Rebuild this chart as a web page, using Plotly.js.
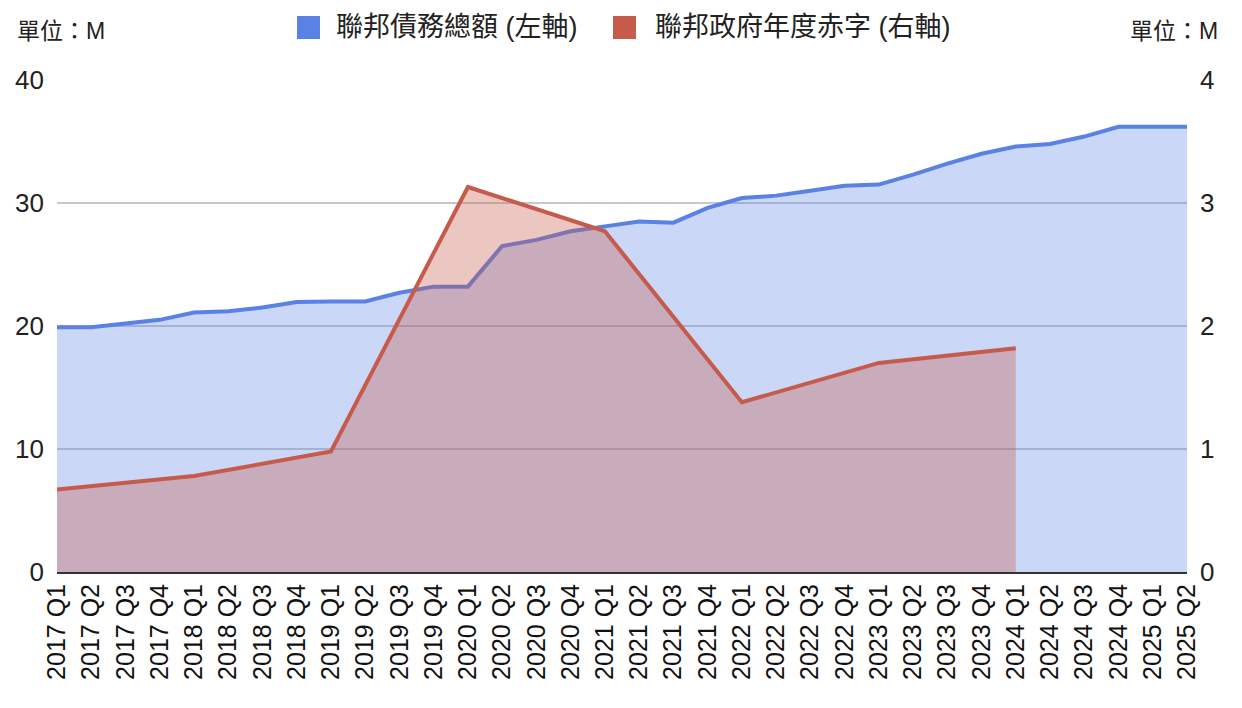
<!DOCTYPE html>
<html>
<head>
<meta charset="utf-8">
<script src="https://cdn.plot.ly/plotly-3.0.1.min.js"></script>
<style>
html,body{margin:0;padding:0;background:#fff;}
#chart{width:1242px;height:708px;}
</style>
</head>
<body>
<div id="chart"></div>
<script>
const categories = [
  "2017 Q1","2017 Q2","2017 Q3","2017 Q4",
  "2018 Q1","2018 Q2","2018 Q3","2018 Q4",
  "2019 Q1","2019 Q2","2019 Q3","2019 Q4",
  "2020 Q1","2020 Q2","2020 Q3","2020 Q4",
  "2021 Q1","2021 Q2","2021 Q3","2021 Q4",
  "2022 Q1","2022 Q2","2022 Q3","2022 Q4",
  "2023 Q1","2023 Q2","2023 Q3","2023 Q4",
  "2024 Q1","2024 Q2","2024 Q3","2024 Q4",
  "2025 Q1","2025 Q2"
];

// 聯邦債務總額 (left axis)
const debtTotal = [
  19.9, 19.9, 20.2, 20.5,
  21.1, 21.2, 21.5, 21.95,
  22.0, 22.0, 22.7, 23.2,
  23.2, 26.5, 27.0, 27.7,
  28.1, 28.5, 28.4, 29.6,
  30.4, 30.6, 31.0, 31.4,
  31.5, 32.3, 33.2, 34.0,
  34.6, 34.8, 35.4, 36.2,
  36.2, 36.2
];

// 聯邦政府年度赤字 (right axis) — annual values at Q1
const annualDeficit = [
  0.67, null, null, null,
  0.78, null, null, null,
  0.98, null, null, null,
  3.13, null, null, null,
  2.77, null, null, null,
  1.38, null, null, null,
  1.70, null, null, null,
  1.82, null, null, null,
  null, null
];

const seriesNames = ["聯邦債務總額 (左軸)", "聯邦政府年度赤字 (右軸)"];
const unitLabel = "單位：M";
const leftTicks = [0, 10, 20, 30, 40];
const rightTicks = [0, 1, 2, 3, 4];

const blue = "#5a82e4";
const red = "#c65a4b";
const txtFont = "Liberation Sans, Arial, Noto Sans CJK TC, sans-serif";

const traces = [
  {
    x: categories, y: debtTotal, type: "scatter", mode: "lines",
    name: seriesNames[0], yaxis: "y",
    line: {color: blue, width: 4},
    fill: "tozeroy", fillcolor: "rgba(90,130,228,0.32)",
    showlegend: false, hoverinfo: "x+y"
  },
  {
    x: categories, y: annualDeficit, type: "scatter", mode: "lines",
    name: seriesNames[1], yaxis: "y2", connectgaps: true,
    line: {color: red, width: 4},
    fill: "tozeroy", fillcolor: "rgba(198,90,75,0.34)",
    showlegend: false, hoverinfo: "x+y"
  }
];

function px2x(p){ return (p - 57) / 1130; }
function px2y(p){ return (572 - p) / 492; }

const layout = {
  width: 1242, height: 708,
  margin: {l: 57, r: 55, t: 80, b: 136},
  paper_bgcolor: "#fff", plot_bgcolor: "#fff",
  showlegend: false,
  font: {family: txtFont, color: "#222"},
  xaxis: {
    type: "category", range: [0, categories.length - 1],
    tickangle: -90, tickfont: {size: 25, color: "#111", family: txtFont},
    showgrid: false, showline: true, linecolor: "#333", linewidth: 2,
    ticks: "", fixedrange: true
  },
  yaxis: {
    range: [0, 40], tickvals: leftTicks, ticktext: leftTicks.map(String),
    tickfont: {size: 26, color: "#222"},
    showgrid: true, gridcolor: "#c8c8c8", gridwidth: 1.5,
    zeroline: false, ticks: "", ticklabelstandoff: 12
  },
  yaxis2: {
    range: [0, 4], tickvals: rightTicks, ticktext: rightTicks.map(String),
    overlaying: "y", side: "right",
    tickfont: {size: 26, color: "#222"},
    showgrid: false, zeroline: false, ticks: "", ticklabelstandoff: 12
  },
  shapes: [
    {type: "rect", xref: "paper", yref: "paper",
     x0: px2x(297), x1: px2x(320), y0: px2y(39), y1: px2y(16),
     fillcolor: blue, line: {width: 0}},
    {type: "rect", xref: "paper", yref: "paper",
     x0: px2x(613), x1: px2x(636), y0: px2y(39), y1: px2y(16),
     fillcolor: red, line: {width: 0}}
  ],
  annotations: [
    {xref: "paper", yref: "paper", x: px2x(334), y: px2y(27),
     xanchor: "left", yanchor: "middle", showarrow: false,
     text: seriesNames[0], font: {size: 27, color: "#222", family: txtFont}},
    {xref: "paper", yref: "paper", x: px2x(653), y: px2y(27),
     xanchor: "left", yanchor: "middle", showarrow: false,
     text: seriesNames[1], font: {size: 27, color: "#222", family: txtFont}},
    {xref: "paper", yref: "paper", x: px2x(15), y: px2y(31),
     xanchor: "left", yanchor: "middle", showarrow: false,
     text: unitLabel, font: {size: 23, color: "#222", family: txtFont}},
    {xref: "paper", yref: "paper", x: px2x(1220), y: px2y(31),
     xanchor: "right", yanchor: "middle", showarrow: false,
     text: unitLabel, font: {size: 23, color: "#222", family: txtFont}}
  ]
};

Plotly.newPlot("chart", traces, layout, {displayModeBar: false, staticPlot: true});
</script>
</body>
</html>
